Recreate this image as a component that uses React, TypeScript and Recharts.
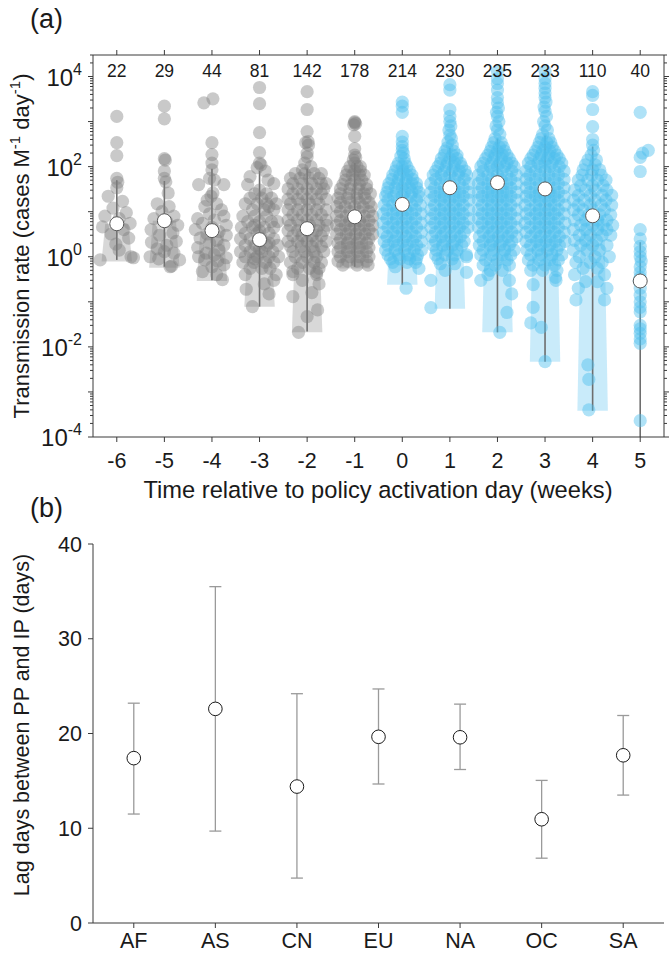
import React from 'react';
import { ComposedChart, Scatter, XAxis, YAxis, ReferenceArea, ErrorBar, Label } from 'recharts';

const FONT = "'Liberation Sans', Arial, Helvetica, sans-serif";
const AXIS = '#3a3a3a';
const TEXT = '#1a1a1a';
const GRAY = '#7f7f7f';
const BLUE = '#4dbeee';

// ---------- Panel (a) data ----------
const WEEKS = [-6, -5, -4, -3, -2, -1, 0, 1, 2, 3, 4, 5];
const COUNTS = [22, 29, 44, 81, 142, 178, 214, 230, 235, 233, 110, 40];
const MEDIANS = [5.4, 6.3, 3.8, 2.4, 4.2, 7.7, 14.5, 34, 44, 32, 8.1, 0.29];
const WHISKER_LOW = [0.85, 0.6, 0.3, 0.078, 0.022, 0.6, 0.24, 0.07, 0.021, 0.0047, 0.00038, 0.0001];
const WHISKER_HIGH = [50, 48, 90, 80, 90, 120, 110, 260, 420, 490, 280, 2.1];
const SHADE_LOW = [0.78, 0.57, 0.29, 0.078, 0.021, 0.55, 0.24, 0.07, 0.021, 0.0047, 0.00038, 0];
const Y_DECADES = [1e-4, 1e-3, 1e-2, 1e-1, 1, 10, 100, 1000, 1e4];
const Y_LABELLED = [1e-4, 1e-2, 1, 100, 1e4];
const Y_EXP_LABELS = ['-4', '-2', '0', '2', '4'];

// each row: [value, x-offsets of the points at that value]
const COL_M6 = [
  [1300, 0], [340, 0], [175, 0], [55, 0], [45, 0.02], [34, 0], [22, -0.18], [17, 0.12], [12, -0.08],
  [9.5, 0.2], [8, -0.25], [7, 0.05], [5.5, 0.28], [4.6, -0.3], [4, 0.15], [3.2, -0.12], [2.6, 0.25],
  [1.9, -0.02], [1.4, 0.05], [1.0, 0.3], [0.95, 0.35], [0.85, -0.35],
];
const COL_M5 = [
  [2200, 0], [1150, 0], [150, 0], [140, 0.02], [80, 0], [55, 0], [46, 0.03], [26, 0.08], [15, -0.15],
  [13, 0.1], [10, -0.05], [8, 0.2], [7, -0.22], [6, 0.05], [5, 0.28], [4, -0.28], [3.4, 0.18], [3, -0.1],
  [2.2, 0.25], [2.1, -0.27], [1.8, 0.05], [1.5, -0.15], [1.3, 0], [1.2, 0.2], [1.0, -0.3], [0.9, -0.12],
  [0.85, 0.32], [0.62, 0.15], [0.6, 0.12],
];
const COL_M4 = [
  [3200, 0.02], [2600, -0.17], [340, 0], [185, 0], [120, 0], [85, 0], [55, -0.05], [50, 0.05], [40, -0.28, 0.25],
  [26, 0.02], [22, -0.02], [18, -0.1], [15, 0.1], [13, -0.15], [11, 0.2], [9, -0.05], [8, 0.25], [7, -0.3],
  [6.5, 0.05], [5.5, -0.2], [5, 0.3], [4.5, 0], [4, -0.35], [3.6, 0.15], [3.2, -0.1], [3, 0.3], [2.6, -0.25],
  [2.3, 0.1], [2, -0.05], [1.8, 0.25], [1.6, -0.3], [1.4, 0.15], [1.2, -0.12], [1.1, 0.05], [1.0, -0.28],
  [0.95, 0.3], [0.85, -0.15], [0.8, 0.12], [0.66, 0.25], [0.6, 0], [0.47, -0.2], [0.4, 0.1], [0.31, 0.22],
];
const COL_M3 = [
  [5700, 0], [2500, 0], [570, 0], [205, 0], [120, 0], [110, 0.03], [95, -0.05], [80, 0.12], [60, -0.2],
  [50, 0.18], [42, 0.3], [40, -0.25], [30, 0], [25, -0.1, 0.15],
  [20, -0.2, 0.05, 0.25], [15, -0.3, -0.05, 0.15, 0.35], [13, 0.2], [11, -0.15, 0.1, 0.3], [8, -0.35, -0.1, 0.15],
  [6, -0.25, 0, 0.25, 0.38], [5, -0.1], [4.5, -0.38, -0.15, 0.1, 0.3], [3.8, 0], [3.3, -0.3, -0.05, 0.2],
  [2.5, -0.4, -0.2, 0.05, 0.3], [2, 0.2], [1.8, -0.3, -0.08, 0.15, 0.38], [1.5, 0], [1.3, -0.4, -0.2, 0.05, 0.28],
  [1.0, -0.3, -0.05, 0.2, 0.4], [0.9, -0.1], [0.75, -0.35, -0.12, 0.12, 0.3], [0.55, -0.2, 0.05, 0.22],
  [0.4, -0.3, 0.35], [0.3, 0.3], [0.25, 0.1], [0.19, -0.28], [0.15, 0.2], [0.078, -0.15],
];
const COL_M2 = [
  [4600, 0], [1850, 0], [600, 0], [360, 0.02], [340, -0.03], [300, 0.03], [200, 0], [165, 0], [120, -0.05],
  [100, 0.08], [85, -0.1],
  [70, -0.25, -0.05, 0.15, 0.3], [55, -0.35, -0.15, 0.05, 0.25], [42, -0.3, -0.1, 0.1, 0.3, 0.4],
  [32, -0.4, -0.2, 0, 0.2, 0.35], [25, -0.3, -0.1, 0.1, 0.3], [19, -0.4, -0.2, 0, 0.2, 0.4],
  [15, -0.35, -0.15, 0.05, 0.25], [11, -0.4, -0.2, 0, 0.2, 0.4], [8.5, -0.3, -0.1, 0.1, 0.3],
  [6.5, -0.4, -0.2, 0, 0.2, 0.4], [5, -0.35, -0.15, 0.05, 0.25, 0.42], [3.8, -0.4, -0.2, 0, 0.2, 0.35],
  [2.9, -0.3, -0.1, 0.1, 0.3], [2.2, -0.4, -0.2, 0, 0.2, 0.4], [1.7, -0.35, -0.12, 0.1, 0.3],
  [1.3, -0.3, -0.05, 0.15, 0.35], [1.0, -0.25, 0, 0.2], [0.75, -0.35, -0.1, 0.15, 0.3], [0.55, -0.2, 0.05, 0.25],
  [0.47, -0.3], [0.45, 0.2], [0.4, -0.3, 0.2], [0.3, -0.1], [0.25, 0.25], [0.16, 0.1], [0.13, -0.3],
  [0.066, 0.22], [0.047, 0], [0.021, -0.18],
];
const COL_M1 = [
  [1000, 0], [950, 0], [900, 0.02], [850, -0.02], [470, 0], [250, 0], [180, 0], [160, 0.02], [140, -0.03], [120, 0],
  [100, -0.1, 0.05, 0.12], [80, -0.15, 0, 0.12], [65, -0.18, -0.05, 0.1, 0.2], [50, -0.2, 0, 0.15],
  [40, -0.25, -0.08, 0.1, 0.25], [32, -0.3, -0.1, 0.08, 0.25], [25, -0.3, -0.12, 0.05, 0.2, 0.33],
  [20, -0.35, -0.15, 0.05, 0.22], [16, -0.3, -0.1, 0.1, 0.3], [13, -0.38, -0.2, 0, 0.18, 0.35],
  [10, -0.3, -0.1, 0.1, 0.3], [8, -0.38, -0.18, 0, 0.2, 0.38], [6.3, -0.3, -0.1, 0.1, 0.3],
  [5, -0.38, -0.2, 0, 0.2, 0.38], [4, -0.3, -0.1, 0.1, 0.3], [3.2, -0.38, -0.18, 0.02, 0.22, 0.38],
  [2.5, -0.3, -0.1, 0.1, 0.3], [2, -0.35, -0.15, 0.05, 0.25], [1.6, -0.3, -0.1, 0.1, 0.3],
  [1.3, -0.35, -0.15, 0.05, 0.25], [1.0, -0.3, -0.1, 0.1, 0.3], [0.8, -0.35, -0.15, 0.05, 0.25],
  [0.65, -0.25, 0.05, 0.28],
];
const COL_0 = [
  [2700, 0], [2200, 0], [1600, 0], [470, 0], [350, 0], [280, 0], [230, 0], [200, 0.02], [170, -0.03], [150, 0.04],
  [120, -0.08, 0.06], [100, -0.12, 0, 0.1], [80, -0.15, 0.02, 0.15], [65, -0.2, -0.05, 0.1, 0.2],
  [52, -0.22, -0.08, 0.08, 0.22], [42, -0.28, -0.1, 0.05, 0.2, 0.3], [34, -0.3, -0.15, 0, 0.15, 0.3],
  [27, -0.32, -0.12, 0.05, 0.2, 0.35], [22, -0.35, -0.18, 0, 0.18, 0.35], [18, -0.3, -0.1, 0.1, 0.3],
  [14, -0.38, -0.2, 0, 0.2, 0.38], [11, -0.32, -0.12, 0.08, 0.28], [9, -0.4, -0.2, 0, 0.2, 0.4],
  [7, -0.32, -0.12, 0.08, 0.28], [5.6, -0.4, -0.2, 0, 0.2, 0.4], [4.5, -0.3, -0.1, 0.1, 0.3],
  [3.5, -0.4, -0.2, 0, 0.2, 0.4], [2.8, -0.32, -0.12, 0.08, 0.28], [2.2, -0.38, -0.18, 0.02, 0.22, 0.4],
  [1.8, -0.3, -0.1, 0.1, 0.3], [1.4, -0.35, -0.15, 0.05, 0.25, 0.4], [1.1, -0.3, -0.08, 0.12, 0.32],
  [0.9, -0.25, -0.05, 0.15, 0.3], [0.75, -0.2, 0.1, 0.28], [0.6, -0.15], [0.55, 0.35], [0.2, 0.08],
];
const COL_1 = [
  [6600, 0], [5000, 0], [1850, 0], [1300, 0], [1000, 0], [800, 0.02], [650, -0.02], [500, 0], [420, 0.03],
  [350, -0.04], [300, 0.05], [260, -0.06],
  [220, -0.1, 0.08], [180, -0.12, 0.05, 0.15], [150, -0.18, 0, 0.15], [120, -0.2, -0.05, 0.1, 0.22],
  [100, -0.25, -0.08, 0.08, 0.25], [80, -0.3, -0.12, 0.05, 0.2, 0.32], [65, -0.35, -0.18, 0, 0.18, 0.35],
  [52, -0.3, -0.1, 0.1, 0.3], [42, -0.4, -0.2, 0, 0.2, 0.4], [34, -0.32, -0.12, 0.08, 0.28],
  [27, -0.4, -0.2, 0, 0.2, 0.4], [22, -0.32, -0.12, 0.08, 0.28], [18, -0.4, -0.2, 0, 0.2, 0.4],
  [14, -0.32, -0.12, 0.08, 0.28], [11, -0.4, -0.2, 0, 0.2, 0.4], [9, -0.32, -0.12, 0.08, 0.28],
  [7, -0.4, -0.2, 0, 0.2, 0.4], [5.6, -0.32, -0.12, 0.08, 0.28], [4.5, -0.4, -0.2, 0, 0.2, 0.38],
  [3.5, -0.3, -0.1, 0.1, 0.3], [2.8, -0.38, -0.18, 0.02, 0.22], [2.2, -0.3, -0.1, 0.1, 0.3],
  [1.8, -0.35, -0.15, 0.05, 0.25], [1.4, -0.28, -0.05, 0.15], [1.1, -0.3, -0.1, 0.1, 0.35],
  [1.0, 0.35], [0.9, -0.25, 0.05], [0.7, -0.2, 0.1], [0.5, -0.1], [0.45, 0.35], [0.3, -0.4], [0.074, -0.4],
];
const COL_2 = [
  [13000, 0], [9000, 0], [7000, 0], [5000, 0], [3400, 0], [2600, 0], [2000, 0.02], [1600, -0.02], [1300, 0],
  [1000, 0.03], [800, -0.03], [650, 0], [520, 0.05], [420, -0.05],
  [340, -0.08, 0.08], [270, -0.12, 0.04, 0.12], [220, -0.15, 0, 0.15], [180, -0.2, -0.05, 0.1, 0.2],
  [150, -0.25, -0.08, 0.08, 0.25], [120, -0.3, -0.12, 0.05, 0.2, 0.3], [100, -0.35, -0.15, 0, 0.15, 0.35],
  [80, -0.3, -0.1, 0.1, 0.3], [65, -0.4, -0.2, 0, 0.2, 0.4], [52, -0.32, -0.12, 0.08, 0.28],
  [42, -0.4, -0.2, 0, 0.2, 0.4], [34, -0.32, -0.12, 0.08, 0.28], [27, -0.4, -0.2, 0, 0.2, 0.4],
  [22, -0.32, -0.12, 0.08, 0.28], [18, -0.4, -0.2, 0, 0.2, 0.4], [14, -0.32, -0.12, 0.08, 0.28],
  [11, -0.4, -0.2, 0, 0.2, 0.4], [9, -0.32, -0.12, 0.08, 0.28], [7, -0.4, -0.2, 0, 0.2, 0.4],
  [5.6, -0.32, -0.12, 0.08, 0.28], [4.5, -0.4, -0.2, 0, 0.2, 0.4], [3.5, -0.3, -0.1, 0.1, 0.3],
  [2.8, -0.38, -0.18, 0.02, 0.22, 0.4], [2.2, -0.3, -0.1, 0.1, 0.3], [1.8, -0.38, -0.15, 0.05, 0.25],
  [1.4, -0.3, -0.08, 0.15, 0.35], [1.1, -0.35, -0.12, 0.1, 0.28], [0.85, -0.25, 0, 0.2],
  [0.65, -0.3, -0.05, 0.25], [0.5, -0.15, 0.1], [0.4, -0.2], [0.3, -0.35, 0.25], [0.15, 0.3],
  [0.058, 0.2], [0.021, 0.05],
];
const COL_3 = [
  [13000, 0], [9000, 0], [7000, 0], [5500, 0], [4300, 0], [3400, 0], [2700, 0.02], [2100, -0.02], [1700, 0],
  [1300, 0.03], [1000, -0.03], [800, 0], [650, 0.05], [520, -0.05],
  [420, -0.08, 0.08], [340, -0.12, 0.04, 0.12], [270, -0.15, 0, 0.15], [220, -0.2, -0.05, 0.1, 0.2],
  [180, -0.25, -0.08, 0.08, 0.25], [150, -0.3, -0.12, 0.05, 0.2, 0.3], [120, -0.35, -0.15, 0, 0.15, 0.35],
  [100, -0.3, -0.1, 0.1, 0.3], [80, -0.4, -0.2, 0, 0.2, 0.4], [65, -0.32, -0.12, 0.08, 0.28],
  [52, -0.4, -0.2, 0, 0.2, 0.4], [42, -0.32, -0.12, 0.08, 0.28], [34, -0.4, -0.2, 0, 0.2, 0.4],
  [27, -0.32, -0.12, 0.08, 0.28], [22, -0.4, -0.2, 0, 0.2, 0.4], [18, -0.32, -0.12, 0.08, 0.28],
  [14, -0.42, -0.2, 0, 0.2, 0.42], [11, -0.32, -0.12, 0.08, 0.28], [9, -0.4, -0.2, 0, 0.2, 0.4],
  [7, -0.32, -0.12, 0.08, 0.28], [5.6, -0.42, -0.2, 0, 0.2, 0.42], [4.5, -0.32, -0.12, 0.08, 0.28],
  [3.5, -0.4, -0.2, 0, 0.2, 0.4], [2.8, -0.3, -0.1, 0.1, 0.3], [2.2, -0.4, -0.18, 0.02, 0.22, 0.42],
  [1.8, -0.3, -0.1, 0.1, 0.3], [1.4, -0.38, -0.15, 0.05, 0.25], [1.1, -0.3, -0.08, 0.15, 0.35],
  [0.85, -0.35, -0.12, 0.1, 0.28], [0.65, -0.25, 0, 0.2], [0.5, -0.3, -0.05, 0.25], [0.35, 0.22],
  [0.3, 0.23], [0.24, -0.25], [0.075, -0.25], [0.034, -0.3], [0.027, -0.08], [0.0047, 0],
];
const COL_4 = [
  [4600, 0], [3800, 0], [1850, 0], [770, 0], [400, 0], [300, 0], [230, 0.02], [180, -0.03],
  [140, -0.1, 0.08], [110, -0.15, 0.05], [85, -0.2, 0, 0.15], [65, -0.22, -0.02, 0.18],
  [50, -0.3, -0.1, 0.1, 0.28], [38, -0.25, 0, 0.22], [30, -0.38, -0.15, 0.05, 0.3], [23, -0.3, -0.05, 0.2, 0.4],
  [18, -0.4, -0.18, 0.05, 0.28], [14, -0.3, -0.05, 0.18, 0.4], [11, -0.4, -0.2, 0, 0.25],
  [8.5, -0.3, -0.08, 0.15, 0.38], [6.5, -0.38, -0.15, 0.1, 0.3], [5, -0.25, 0, 0.22, 0.42],
  [4, -0.4, -0.15, 0.1, 0.3], [3, -0.28, -0.05, 0.2, 0.38], [2.3, -0.38, -0.15, 0.08], [1.8, -0.25, 0, 0.3],
  [1.4, -0.4, -0.12, 0.15], [1.0, -0.28, 0.05, 0.35], [0.75, -0.35, -0.05, 0.2], [0.55, -0.2, 0.1],
  [0.4, -0.38, 0.25], [0.28, -0.15, 0.1], [0.2, -0.3, 0.3], [0.11, -0.35, 0.25],
  [0.004, -0.1], [0.0019, -0.08], [0.0004, -0.08],
];
const COL_5 = [
  [1600, 0], [230, 0.17], [200, 0.05], [160, 0], [78, 0], [4, 0], [2.5, 0], [1.7, 0], [1.3, 0], [1.0, 0],
  [0.8, 0.02], [0.6, 0], [0.45, 0], [0.35, 0], [0.29, -0.02], [0.2, 0], [0.14, 0], [0.1, 0], [0.075, 0],
  [0.06, 0], [0.03, 0], [0.025, 0], [0.02, 0], [0.015, 0], [0.012, 0], [0.00023, 0],
];
const COLUMNS = [COL_M6, COL_M5, COL_M4, COL_M3, COL_M2, COL_M1, COL_0, COL_1, COL_2, COL_3, COL_4, COL_5];

// ---------- Panel (b) data ----------
const REGIONS = ['AF', 'AS', 'CN', 'EU', 'NA', 'OC', 'SA'];
const LAG_MEAN = [17.4, 22.6, 14.4, 19.65, 19.6, 10.95, 17.7];
const LAG_LOW = [11.5, 9.7, 4.74, 14.67, 16.2, 6.84, 13.5];
const LAG_HIGH = [23.2, 35.5, 24.2, 24.7, 23.1, 15.05, 21.9];
const LAG_TICKS = [0, 10, 20, 30, 40];

// ---------- derived tables ----------
const pointsFor = (i: number) =>
  (COLUMNS[i] as number[][]).flatMap(([v, ...dxs]) => dxs.map((dx) => ({ x: WEEKS[i] + dx, y: v })));
const grayPts = WEEKS.map((w, i) => (w < 0 ? pointsFor(i) : [])).flat();
const bluePts = WEEKS.map((w, i) => (w >= 0 ? pointsFor(i) : [])).flat();
const whiskerData = WEEKS.map((w, i) => ({
  x: w,
  y: MEDIANS[i],
  err: [MEDIANS[i] - WHISKER_LOW[i], WHISKER_HIGH[i] - MEDIANS[i]],
}));
const MINOR = Y_DECADES.flatMap((d) => [2, 3, 4, 5, 6, 7, 8, 9].map((m) => m * d)).filter((v) => v <= 3e4);
const ALL_Y_TICKS = [...Y_DECADES, ...MINOR].sort((a, b) => a - b);
const lagData = REGIONS.map((r, i) => ({
  x: i + 1,
  y: LAG_MEAN[i],
  err: [LAG_MEAN[i] - LAG_LOW[i], LAG_HIGH[i] - LAG_MEAN[i]],
}));

const isDecade = (v: number) => Math.abs(Math.log10(v) - Math.round(Math.log10(v))) < 1e-6;

const Dot = (fill: string, op: number) => (p: any) =>
  p.cx == null ? <g /> : <circle cx={p.cx} cy={p.cy} r={6.6} fill={fill} fillOpacity={op} stroke="none" />;
const MedianDot = (p: any) =>
  p.cx == null ? <g /> : <circle cx={p.cx} cy={p.cy} r={7} fill="#ffffff" stroke="#5a5a5a" strokeWidth={1} />;
const OpenDot = (p: any) =>
  p.cx == null ? <g /> : <circle cx={p.cx} cy={p.cy} r={6.8} fill="#ffffff" stroke="#1a1a1a" strokeWidth={1} />;
const Nothing = () => <g />;
const Trapezoid = (fill: string) => (p: any) => {
  const { x, y, width, height } = p;
  if (x == null || !isFinite(y) || !isFinite(height)) return <g />;
  const inset = width * 0.12;
  return (
    <path
      d={`M${x + inset},${y} L${x + width - inset},${y} L${x + width},${y + height} L${x},${y + height} Z`}
      fill={fill}
      fillOpacity={0.3}
      stroke="none"
    />
  );
};

// left axis ticks: tickSize/tickMargin are 0, so (x, y) is the point on the axis line
const LeftTick = (p: any) => {
  const v = p.payload.value;
  const major = isDecade(v);
  const idx = Y_LABELLED.findIndex((t) => Math.abs(Math.log10(t) - Math.log10(v)) < 1e-6);
  return (
    <g>
      <line x1={p.x} x2={p.x - (major ? 5 : 3)} y1={p.y} y2={p.y} stroke={AXIS} strokeWidth={1} />
      {idx >= 0 ? (
        <text x={p.x - 11} y={p.y + 9} textAnchor="end" fontSize={24} fill={TEXT} fontFamily={FONT}>
          10<tspan dy={-11} fontSize={16}>{Y_EXP_LABELS[idx]}</tspan>
        </text>
      ) : null}
    </g>
  );
};
const RightTick = (p: any) => {
  const major = isDecade(p.payload.value);
  return <line x1={p.x} x2={p.x + (major ? 5 : 3)} y1={p.y} y2={p.y} stroke={AXIS} strokeWidth={1} />;
};
const countOf = (v: number) => COUNTS[WEEKS.indexOf(v)];

const tickStyle = { fontSize: 21.5, fill: TEXT, fontFamily: FONT };
const axisLine = { stroke: AXIS, strokeWidth: 1 };
const logDomain = [1e-4, 3e4];

export default function App() {
  return (
    <div style={{ position: 'absolute', left: 0, top: 0, width: 670, height: 963, background: '#fff' }}>
      <div style={{ position: 'absolute', left: 0, top: 0 }}>
        <ComposedChart width={670} height={520} margin={{ top: 0, right: 0, bottom: 0, left: 0 }}>
          <XAxis
            xAxisId="b"
            dataKey="x"
            type="number"
            domain={[-6.5, 5.5]}
            allowDataOverflow
            ticks={WEEKS}
            interval={0}
            height={83}
            tickSize={5}
            tickMargin={11}
            tick={tickStyle}
            axisLine={axisLine}
            tickLine={axisLine}
            label={
              <Label
                content={() => (
                  <text x={378} y={498} textAnchor="middle" fontSize={23.7} fill={TEXT} fontFamily={FONT}>
                    Time relative to policy activation day (weeks)
                  </text>
                )}
              />
            }
          />
          <XAxis
            xAxisId="t"
            orientation="top"
            dataKey="x"
            type="number"
            domain={[-6.5, 5.5]}
            allowDataOverflow
            ticks={WEEKS}
            interval={0}
            height={55}
            tickSize={5}
            tickMargin={-27}
            tickFormatter={(v: number) => String(countOf(v))}
            tick={{ fontSize: 17.5, fill: TEXT, fontFamily: FONT }}
            tickLine={axisLine}
            axisLine={axisLine}
            label={
              <Label
                content={() => (
                  <text x={30} y={28} fontSize={27} fill={TEXT} fontFamily={FONT}>
                    (a)
                  </text>
                )}
              />
            }
          />
          <YAxis
            yAxisId="l"
            dataKey="y"
            type="number"
            scale="log"
            domain={logDomain}
            allowDataOverflow
            ticks={ALL_Y_TICKS}
            interval={0}
            width={93}
            tickSize={0}
            tickMargin={0}
            tick={<LeftTick />}
            tickLine={false}
            axisLine={axisLine}
            label={
              <Label
                content={() => (
                  <text
                    transform="translate(29,246) rotate(-90)"
                    textAnchor="middle"
                    fontSize={22}
                    fill={TEXT}
                    fontFamily={FONT}
                  >
                    Transmission rate (cases M<tspan dy={-9} fontSize={15}>-1</tspan>
                    <tspan dy={9}> day</tspan>
                    <tspan dy={-9} fontSize={15}>-1</tspan>
                    <tspan dy={9}>)</tspan>
                  </text>
                )}
              />
            }
          />
          <YAxis
            yAxisId="r"
            orientation="right"
            type="number"
            scale="log"
            domain={logDomain}
            allowDataOverflow
            ticks={ALL_Y_TICKS}
            interval={0}
            width={6}
            tickSize={0}
            tickMargin={0}
            tick={<RightTick />}
            tickLine={false}
            axisLine={axisLine}
          />
          {WEEKS.map((w, i) =>
            SHADE_LOW[i] > 0 ? (
              <ReferenceArea
                key={`sh${w}`}
                xAxisId="b"
                yAxisId="l"
                x1={w - 0.32}
                x2={w + 0.32}
                y1={SHADE_LOW[i]}
                y2={MEDIANS[i]}
                shape={Trapezoid(w < 0 ? GRAY : BLUE)}
              />
            ) : null,
          )}
          <Scatter xAxisId="b" yAxisId="l" data={grayPts} shape={Dot(GRAY, 0.42)} isAnimationActive={false} />
          <Scatter xAxisId="b" yAxisId="l" data={bluePts} shape={Dot(BLUE, 0.45)} isAnimationActive={false} />
          <Scatter xAxisId="b" yAxisId="l" data={whiskerData} shape={Nothing} isAnimationActive={false}>
            <ErrorBar dataKey="err" direction="y" width={0} stroke="#6e6e6e" strokeWidth={1.6} isAnimationActive={false} />
          </Scatter>
          <Scatter xAxisId="b" yAxisId="l" data={whiskerData} shape={MedianDot} isAnimationActive={false} />
        </ComposedChart>
      </div>
      <div style={{ position: 'absolute', left: 0, top: 480 }}>
        <ComposedChart width={670} height={483} margin={{ top: 64, right: 6, bottom: 0, left: 0 }}>
          <XAxis
            dataKey="x"
            type="number"
            domain={[0.5, 7.5]}
            allowDataOverflow
            ticks={[1, 2, 3, 4, 5, 6, 7]}
            interval={0}
            tickFormatter={(v: number) => REGIONS[v - 1]}
            height={40}
            tickSize={5}
            tickMargin={5}
            tick={tickStyle}
            axisLine={axisLine}
            tickLine={axisLine}
          />
          <YAxis
            dataKey="y"
            type="number"
            domain={[0, 40]}
            allowDataOverflow
            ticks={LAG_TICKS}
            interval={0}
            width={93}
            tickSize={5}
            tickMargin={6}
            tick={tickStyle}
            axisLine={axisLine}
            tickLine={axisLine}
            label={
              <Label
                content={() => (
                  <g>
                    <text x={30} y={37} fontSize={27} fill={TEXT} fontFamily={FONT}>
                      (b)
                    </text>
                    <text
                      transform="translate(29,245) rotate(-90)"
                      textAnchor="middle"
                      fontSize={21.5}
                      fill={TEXT}
                      fontFamily={FONT}
                    >
                      Lag days between PP and IP (days)
                    </text>
                  </g>
                )}
              />
            }
          />
          <Scatter data={lagData} shape={Nothing} isAnimationActive={false}>
            <ErrorBar dataKey="err" direction="y" width={6} stroke="#9a9a9a" strokeWidth={1.3} isAnimationActive={false} />
          </Scatter>
          <Scatter data={lagData} shape={OpenDot} isAnimationActive={false} />
        </ComposedChart>
      </div>
    </div>
  );
}
